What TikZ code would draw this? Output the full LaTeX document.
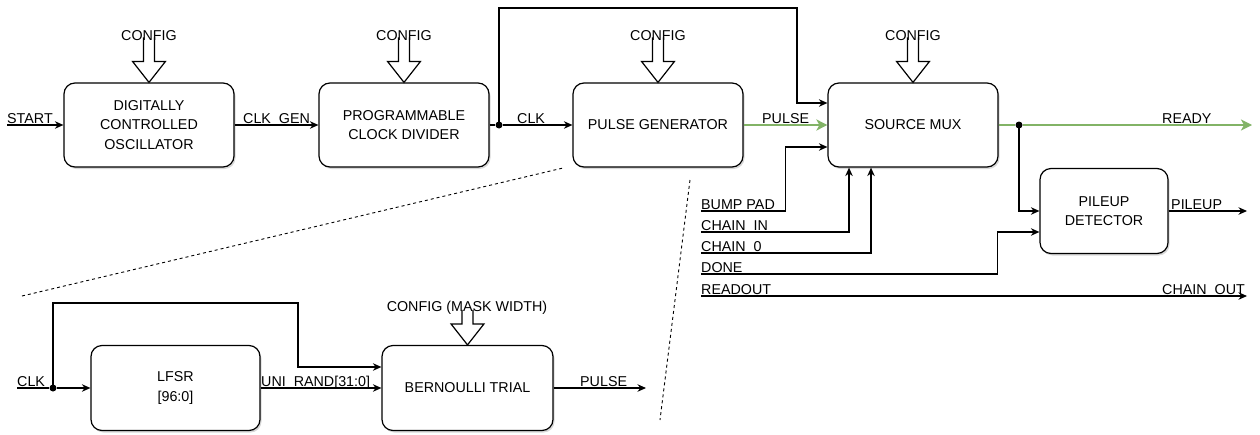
\documentclass[tikz,border=0pt]{standalone}
\usepackage{fontspec}
\setmainfont{Liberation Sans}
\usetikzlibrary{arrows.meta,calc,shadows}
\definecolor{pgreen}{RGB}{130,179,102}
\begin{document}
\begin{tikzpicture}[x=1pt,y=-1pt,
  box/.style={draw,line width=1.2pt,rounded corners=11pt,fill=white,align=center,inner sep=0pt,
    font=\fontsize{14.3}{19.5}\selectfont,
    drop shadow={shadow xshift=1.5pt,shadow yshift=-2pt,opacity=0.3}},
  wire/.style={line width=1.2pt},
  arr/.style={wire,-{Stealth[length=8.5pt,width=7.5pt]}},
  gwire/.style={line width=2pt,draw=pgreen},
  garr/.style={gwire,-{Stealth[length=11pt,width=11pt,inset=3pt]},fill=pgreen},
  lbl/.style={inner sep=0pt,font=\fontsize{14.3}{16}\selectfont},
  dotline/.style={line width=0.9pt,dash pattern=on 3pt off 3pt},
  jdot/.style={circle,fill=black,inner sep=0pt,minimum size=7pt},
  pics/cfg/.style={code={\draw[line width=1.2pt,fill=white,line join=miter]
      (-5.5,-#1) -- (-5.5,-21) -- (-16.5,-21) -- (0,0) -- (16.5,-21) -- (5.5,-21) -- (5.5,-#1);}}
]
\fill[white] (0,0) rectangle (1260,434);
\useasboundingbox (0,0) rectangle (1260,434);

% ---------- top row boxes ----------
\node[box,minimum width=170pt,minimum height=84pt] (dco) at (149,125) {DIGITALLY\\CONTROLLED\\OSCILLATOR};
\node[box,minimum width=170pt,minimum height=84pt] (div) at (404,125) {PROGRAMMABLE\\CLOCK DIVIDER};
\node[box,minimum width=170pt,minimum height=84pt] (pg) at (658,125) {PULSE GENERATOR};
\node[box,minimum width=170pt,minimum height=84pt] (mux) at (913,125) {SOURCE MUX};
\node[box,minimum width=128pt,minimum height=85pt] (pile) at (1104,211) {PILEUP\\DETECTOR};

% ---------- bottom row boxes ----------
\node[box,minimum width=169pt,minimum height=85pt] (lfsr) at (175.5,388) {LFSR\\{[96:0]}};
\node[box,minimum width=171pt,minimum height=85pt] (bern) at (467.5,388) {BERNOULLI TRIAL};

% ---------- config block arrows ----------
\pic at (dco.north) {cfg=45};
\pic at (div.north) {cfg=45};
\pic at (pg.north) {cfg=45};
\pic at (mux.north) {cfg=45};
\pic at (bern.north) {cfg=35};
\node[lbl] (c1) at (149,36) {CONFIG};
\node[lbl] (c2) at (404,36) {CONFIG};
\node[lbl] (c3) at (658,36) {CONFIG};
\node[lbl] (c4) at (913,36) {CONFIG};
\node[lbl] (c5) at (467,308) {CONFIG (MASK WIDTH)};

% ---------- top row wiring ----------
\coordinate (startin) at (7,125);
\draw[arr] (startin) -- (dco.west);
\node[lbl,anchor=base west] (lstart) at (7,123.5) {START};

\draw[arr] (dco.east) -- (div.west);
\node[lbl,anchor=base west] (lclkgen) at (243,123.5) {CLK\_GEN};

\node[jdot] (d1) at (499,125) {};
\draw[wire] (div.east) -- (d1);
\draw[arr] (d1) -- (pg.west);
\node[lbl,anchor=base west] (lclk) at (517,123.5) {CLK};

\coordinate (t1) at (499,8);
\coordinate (t2) at (797,8);
\draw[arr] (d1.center) -- (t1) -- (t2) |- ($(mux.west)+(0,-22)$);

\draw[garr] (pg.east) -- (mux.west);
\node[lbl,anchor=base west] (lpulse) at (762,123.5) {PULSE};

\node[jdot] (d2) at (1019,125) {};
\coordinate (rdyend) at (1252,125);
\draw[gwire] (mux.east) -- (d2);
\draw[garr] (d2) -- (rdyend);
\node[lbl,anchor=base west] (lready) at (1162,123.5) {READY};
\draw[arr] (d2.center) |- (pile.west);

% ---------- side inputs ----------
\coordinate (bp) at (701,211);
\coordinate (ci) at (701,232);
\coordinate (c0) at (701,253);
\coordinate (dn) at (701,274);
\coordinate (ro) at (701,296);
\coordinate (roend) at (1247,296);
\coordinate (pileend) at (1247,211);

\draw[arr] (bp) -| ($(mux.west)+(-42,22)$) -- ($(mux.west)+(0,22)$);
\draw[arr] (ci) -| ($(mux.south)+(-64,0)$);
\draw[arr] (c0) -| ($(mux.south)+(-42,0)$);
\draw[arr] (dn) -| ($(pile.west)+(-42,21)$) -- ($(pile.west)+(0,21)$);
\draw[arr] (ro) -- (roend);
\draw[arr] (pile.east) -- (pileend);

\node[lbl,anchor=base west] (lbp) at (701,209.5) {BUMP PAD};
\node[lbl,anchor=base west] (lci) at (701,230.5) {CHAIN\_IN};
\node[lbl,anchor=base west] (lc0) at (701,251.5) {CHAIN\_0};
\node[lbl,anchor=base west] (ldn) at (701,272.5) {DONE};
\node[lbl,anchor=base west] (lro) at (701,294.5) {READOUT};
\node[lbl,anchor=base east] (lco) at (1245,294.5) {CHAIN\_OUT};
\node[lbl,anchor=base west] (lpile) at (1171,209.5) {PILEUP};

% ---------- bottom wiring ----------
\coordinate (clkin) at (17,388);
\node[jdot] (d3) at (53,388) {};
\draw[wire] (clkin) -- (d3);
\draw[arr] (d3) -- (lfsr.west);
\node[lbl,anchor=base west] (lclk2) at (17,386.5) {CLK};

\coordinate (b1) at (53,303);
\coordinate (b2) at (298,303);
\draw[arr] (d3.center) -- (b1) -- (b2) |- ($(bern.west)+(0,-21)$);

\draw[arr] (lfsr.east) -- (bern.west);
\node[lbl,anchor=base west] (luni) at (261,386.5) {UNI\_RAND[31:0]};

\coordinate (pend) at (646,388);
\draw[arr] (bern.east) -- (pend);
\node[lbl,anchor=base west] (lpulse2) at (580,386.5) {PULSE};

% ---------- zoom (dotted) lines ----------
\coordinate (z1) at (22,296);
\coordinate (z2) at (563,168);
\coordinate (z3) at (690,180);
\coordinate (z4) at (660,420);
\draw[dotline] (z1) -- (z2);
\draw[dotline] (z3) -- (z4);
\end{tikzpicture}
\end{document}
